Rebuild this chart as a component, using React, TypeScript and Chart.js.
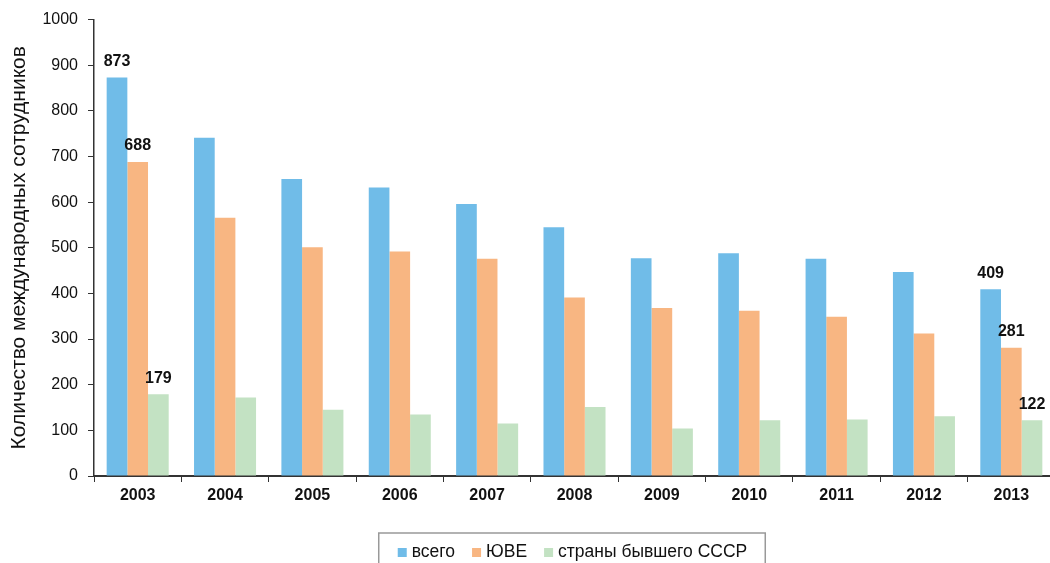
import React, { useEffect, useRef } from "react";
import { Chart, registerables } from "chart.js";

Chart.register(...registerables);

const YEARS = ["2003", "2004", "2005", "2006", "2007", "2008", "2009", "2010", "2011", "2012", "2013"];
const TOTAL = [873, 741, 651, 632, 596, 545, 477, 488, 476, 447, 409];
const SEA = [688, 566, 501, 492, 476, 391, 368, 362, 349, 312, 281];
const FSU = [179, 172, 145, 135, 115, 151, 104, 122, 124, 131, 122];
const SERIES_NAMES = ["всего", "ЮВЕ", "страны бывшего СССР"];
const COLORS = ["#70BCE8", "#F8B682", "#C3E2C3"];
const LABELED_INDICES = [0, 10];
const Y_TITLE = "Количество международных сотрудников";

const FONT = '"Liberation Sans", Arial, sans-serif';

const endLabels = {
  id: "endLabels",
  afterDatasetsDraw(chart: any) {
    const ctx = chart.ctx;
    ctx.save();
    ctx.font = `bold 16px ${FONT}`;
    ctx.fillStyle = "#111";
    ctx.textAlign = "center";
    ctx.textBaseline = "middle";
    chart.data.datasets.forEach((ds: any, di: number) => {
      const meta = chart.getDatasetMeta(di);
      LABELED_INDICES.forEach((i) => {
        const el = meta.data[i];
        if (el) ctx.fillText(String(ds.data[i]), el.x, el.y - 16);
      });
    });
    ctx.restore();
  },
};

const boxLegend = {
  id: "boxLegend",
  afterDraw(chart: any) {
    const ctx = chart.ctx;
    const area = chart.chartArea;
    ctx.save();
    ctx.font = `17.5px ${FONT}`;
    const box = 9;
    const gapText = 5;
    const gapItem = 17;
    const items = chart.data.datasets.map((ds: any) => ({
      label: ds.label,
      color: ds.backgroundColor,
      w: ctx.measureText(ds.label).width,
    }));
    let total = 0;
    items.forEach((it: any, i: number) => {
      total += box + gapText + it.w + (i < items.length - 1 ? gapItem : 0);
    });
    const cx = (area.left + area.right) / 2 - 2;
    let x = cx - total / 2;
    const cy = 552;
    ctx.strokeStyle = "#999";
    ctx.lineWidth = 1.5;
    ctx.strokeRect(x - 19, 533, total + 37, 45);
    ctx.textBaseline = "middle";
    ctx.textAlign = "left";
    items.forEach((it: any) => {
      ctx.fillStyle = it.color;
      ctx.fillRect(x, cy - 4, box, box);
      x += box + gapText;
      ctx.fillStyle = "#111";
      ctx.fillText(it.label, x, cy);
      x += it.w + gapItem;
    });
    ctx.restore();
  },
};

export default function App() {
  const ref = useRef<HTMLCanvasElement | null>(null);

  useEffect(() => {
    if (!ref.current) return;
    const chart = new Chart(ref.current, {
      type: "bar",
      data: {
        labels: YEARS,
        datasets: [TOTAL, SEA, FSU].map((d, i) => ({
          label: SERIES_NAMES[i],
          data: d,
          backgroundColor: COLORS[i],
          borderWidth: 0,
          categoryPercentage: 0.71,
          barPercentage: 1,
        })),
      },
      options: {
        animation: false,
        responsive: true,
        maintainAspectRatio: false,
        layout: { padding: { top: 17, right: 3, bottom: 47, left: 0 } },
        plugins: {
          legend: { display: false },
          tooltip: { enabled: false },
        },
        scales: {
          x: {
            offset: true,
            afterFit: (s: any) => {
              s.height = 40;
            },
            grid: {
              display: true,
              drawOnChartArea: false,
              drawTicks: true,
              tickLength: 6,
              offset: true,
              color: "#333",
            },
            border: { display: true, color: "#333", width: 2 },
            ticks: {
              color: "#111",
              font: { family: FONT, size: 16, weight: "bold" },
              padding: 4,
            },
          },
          y: {
            min: 0,
            max: 1000,
            afterFit: (s: any) => {
              s.width = 94;
            },
            ticks: {
              stepSize: 100,
              color: "#111",
              font: { family: FONT, size: 16 },
              padding: 10,
              callback: (v: any) => String(v),
            },
            grid: {
              display: true,
              drawOnChartArea: false,
              drawTicks: true,
              tickLength: 6,
              color: "#333",
            },
            border: { display: true, color: "#333", width: 1.5 },
            title: {
              display: true,
              text: Y_TITLE,
              color: "#111",
              font: { family: FONT, size: 21 },
              padding: { top: 7, bottom: 4 },
            },
          },
        },
      },
      plugins: [endLabels, boxLegend],
    });
    return () => chart.destroy();
  }, []);

  return (
    <div
      style={{
        position: "fixed",
        left: 0,
        top: 0,
        width: 1050,
        height: 563,
        overflow: "hidden",
        background: "#fff",
      }}
    >
      <div style={{ position: "relative", width: 1058, height: 563 }}>
        <canvas ref={ref} />
      </div>
    </div>
  );
}
